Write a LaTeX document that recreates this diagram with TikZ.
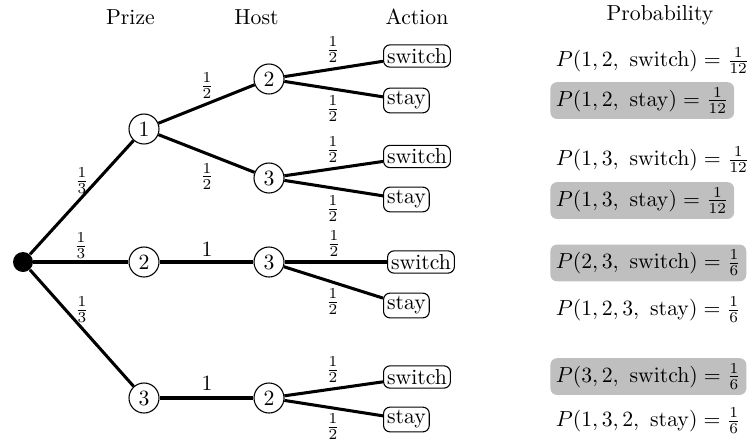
\documentclass[tikz,border=0pt]{standalone}
\begin{document}
\begin{tikzpicture}[x=0.46pt,y=-0.46pt,
  state/.style={circle,draw,line width=0.5pt,minimum size=13.8pt,inner sep=0pt},
  rootdot/.style={circle,fill=black,minimum size=9.2pt,inner sep=0pt},
  act/.style={draw,rounded corners=3pt,line width=0.5pt,inner sep=1.6pt,anchor=west},
  branch/.style={line width=1.4pt},
  lab/.style={inner sep=0pt},
  prob/.style={anchor=base west,inner sep=2.5pt,rounded corners=3pt},
  hl/.style={fill=black!25},
  head/.style={anchor=base}]
\useasboundingbox (0,0) rectangle (752,438);

% headers
\node[head] (hPrize) at (130.5,25) {Prize};
\node[head] (hHost) at (256.5,25) {Host};
\node[head] (hAction) at (417,25) {Action};
\node[head] (hProb) at (660,20) {Probability};

% tree nodes
\node[rootdot] (r) at (23,262) {};
\node[state] (p1) at (144,129) {1};
\node[state] (p2) at (144,262) {2};
\node[state] (p3) at (144,398) {3};
\node[state] (h12) at (269,79) {2};
\node[state] (h13) at (269,178) {3};
\node[state] (h23) at (269,262) {3};
\node[state] (h32) at (269,398) {2};

\node[act] (a12s) at (383,56) {switch};
\node[act] (a12t) at (383,100.5) {stay};
\node[act] (a13s) at (383,156.5) {switch};
\node[act] (a13t) at (383,199.5) {stay};
\node[act] (a23s) at (387,262) {switch};
\node[act] (a23t) at (383,305.5) {stay};
\node[act] (a32s) at (383,377) {switch};
\node[act] (a32t) at (383,419.5) {stay};

% connectors
\draw[branch] (r) -- (p1);
\draw[branch] (r) -- (p2);
\draw[branch] (r) -- (p3);
\draw[branch] (p1) -- (h12);
\draw[branch] (p1) -- (h13);
\draw[branch] (p2) -- (h23);
\draw[branch] (p3) -- (h32);
\draw[branch] (h12) -- (a12s);
\draw[branch] (h12) -- (a12t);
\draw[branch] (h13) -- (a13s);
\draw[branch] (h13) -- (a13t);
\draw[branch] (h23) -- (a23s);
\draw[branch] (h23) -- (a23t);
\draw[branch] (h32) -- (a32s);
\draw[branch] (h32) -- (a32t);

% edge labels
\node[lab] (l1) at (82,181) {$\frac{1}{3}$};
\node[lab] (l2) at (81,246) {$\frac{1}{3}$};
\node[lab] (l3) at (82,310) {$\frac{1}{3}$};
\node[lab] (l4) at (207,86) {$\frac{1}{2}$};
\node[lab] (l5) at (207,176.5) {$\frac{1}{2}$};
\node[lab] (l6) at (207,249) {$1$};
\node[lab] (l7) at (207,383) {$1$};
\node[lab] (l8) at (333,50) {$\frac{1}{2}$};
\node[lab] (l9) at (333,109) {$\frac{1}{2}$};
\node[lab] (l10) at (333,150) {$\frac{1}{2}$};
\node[lab] (l11) at (333,209) {$\frac{1}{2}$};
\node[lab] (l12) at (334,244) {$\frac{1}{2}$};
\node[lab] (l13) at (333,302) {$\frac{1}{2}$};
\node[lab] (l14) at (333,370) {$\frac{1}{2}$};
\node[lab] (l15) at (333,427) {$\frac{1}{2}$};

% probabilities
\node[prob] (q1) at (550,66.4) {$P(1,2,\ \mathrm{switch}) = \frac{1}{12}$};
\node[prob,hl] (q2) at (550,106) {$P(1,2,\ \mathrm{stay}) = \frac{1}{12}$};
\node[prob] (q3) at (550,165.4) {$P(1,3,\ \mathrm{switch}) = \frac{1}{12}$};
\node[prob,hl] (q4) at (550,206) {$P(1,3,\ \mathrm{stay}) = \frac{1}{12}$};
\node[prob,hl] (q5) at (550,268.4) {$P(2,3,\ \mathrm{switch}) = \frac{1}{6}$};
\node[prob] (q6) at (550,315.4) {$P(1,2,3,\ \mathrm{stay}) = \frac{1}{6}$};
\node[prob,hl] (q7) at (550,382) {$P(3,2,\ \mathrm{switch}) = \frac{1}{6}$};
\node[prob] (q8) at (550,426.4) {$P(1,3,2,\ \mathrm{stay}) = \frac{1}{6}$};
\end{tikzpicture}
\end{document}
